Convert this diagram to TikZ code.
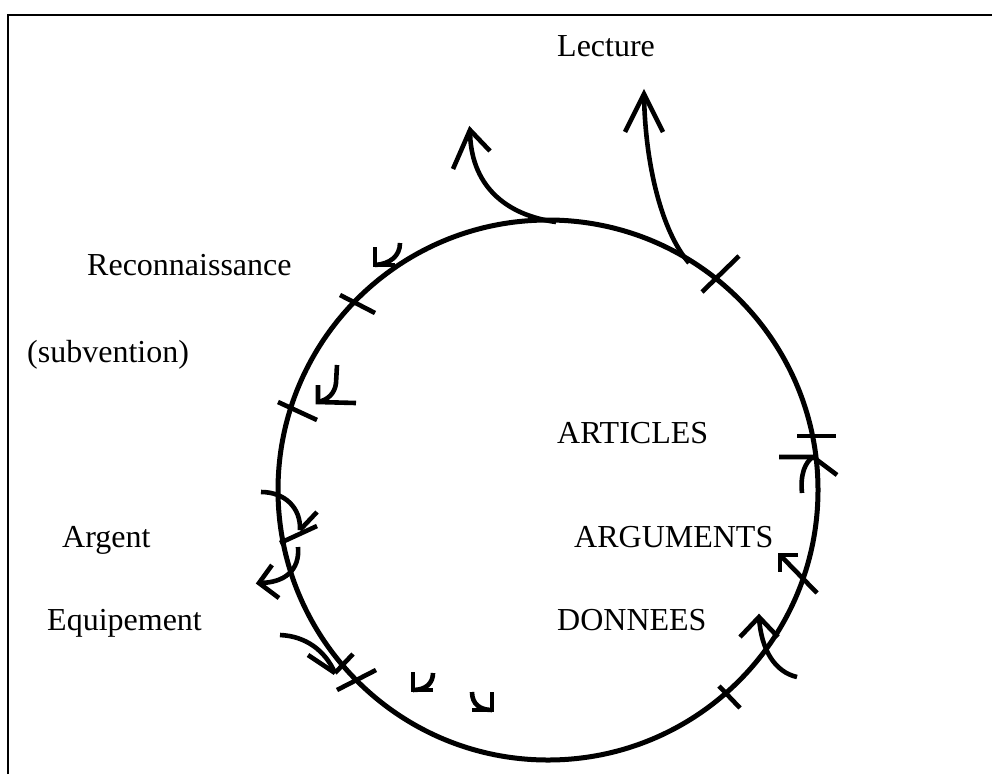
\documentclass[tikz,border=0pt]{standalone}
\usepackage{fontspec}
\setmainfont{Liberation Serif}
\begin{document}
\begin{tikzpicture}[x=1pt,y=-1pt,
  stroke/.style={line width=4.6pt, line cap=butt},
  lbl/.style={anchor=base west, inner sep=0pt, font=\fontsize{32}{38}\selectfont}]
\useasboundingbox (0,0) rectangle (992,774);
% frame
\draw[line width=2.8pt] (8,774) -- (8,15) -- (992,15);
% ring
\node[circle, draw, line width=5pt, minimum size=540pt, inner sep=0pt] (ring) at (548,490) {};
% labels
\node[lbl] (lecture) at (557,56) {Lecture};
\node[lbl] (recon) at (87,275) {Reconnaissance};
\node[lbl] (subv) at (27,362) {(subvention)};
\node[lbl] (articles) at (557,443) {ARTICLES};
\node[lbl] (argent) at (62,547) {Argent};
\node[lbl] (arguments) at (574,547) {ARGUMENTS};
\node[lbl] (equip) at (47,630) {Equipement};
\node[lbl] (donnees) at (557,630) {DONNEES};
% top arrows
\coordinate (a1s) at (556,222);
\coordinate (a1t) at (470,130);
\draw[stroke] (a1s) .. controls (505,215) and (470,185) .. (a1t);
\draw[stroke] (453,169) -- (a1t) -- (490,151);
\coordinate (a2s) at (689,263);
\coordinate (a2t) at (644,94);
\draw[stroke] (a2s) .. controls (662,232) and (645,165) .. (a2t);
\draw[stroke] (625,132) -- (a2t) -- (663,132);
% ticks
\draw[stroke] (702,292) -- (739,256);
\draw[stroke] (340,295) -- (375,313);
\draw[stroke] (278,402) -- (317,420);
\draw[stroke] (280,543) -- (317,526);
\draw[stroke] (337,690) -- (376,670);
\draw[stroke] (353,654) -- (335,673);
\draw[stroke] (797,436) -- (836,436);
\draw[stroke] (719,686) -- (740,708);
% reconnaissance mark
\coordinate (m1) at (375,265);
\draw[stroke] (400,243) .. controls (400,256) and (390,264) .. (m1);
\draw[stroke] (375,247) -- (m1) -- (395,265);
% subvention mark
\coordinate (m2) at (318,402);
\draw[stroke] (337,365) -- (336,383) .. controls (335,393) and (328,400) .. (m2);
\draw[stroke] (318,385) -- (m2) -- (356,403);
% argent arrows
\coordinate (m3) at (300,530);
\draw[stroke] (261,492) .. controls (285,492) and (301,508) .. (m3);
\draw[stroke] (m3) -- (317,512);
\coordinate (m4) at (259,583);
\draw[stroke] (298,547) .. controls (300,570) and (285,583) .. (m4);
\draw[stroke] (272,565) -- (m4) -- (279,598);
% equipement arrow
\coordinate (m5) at (335,673);
\draw[stroke] (280,635) .. controls (305,636) and (325,650) .. (m5);
\draw[stroke] (308,655) -- (m5);
% small bottom marks
\coordinate (m6) at (413,690);
\draw[stroke] (433,673) .. controls (433,683) and (426,690) .. (m6);
\draw[stroke] (413,672) -- (m6) -- (433,690);
\coordinate (m7) at (492,710);
\draw[stroke] (472,692) .. controls (472,704) and (480,710) .. (m7);
\draw[stroke] (492,692) -- (m7) -- (472,710);
% right arrows
\coordinate (r1) at (813,457);
\draw[stroke] (802,493) .. controls (800,475) and (805,462) .. (r1);
\draw[stroke] (779,457) -- (r1) -- (837,475);
\coordinate (r2) at (780,555);
\draw[stroke] (817,593) -- (r2);
\draw[stroke] (798,555) -- (r2) -- (780,572);
\coordinate (r3) at (759,617);
\draw[stroke] (797,677) .. controls (775,672) and (761,650) .. (r3);
\draw[stroke] (740,637) -- (r3) -- (778,637);
\end{tikzpicture}
\end{document}
